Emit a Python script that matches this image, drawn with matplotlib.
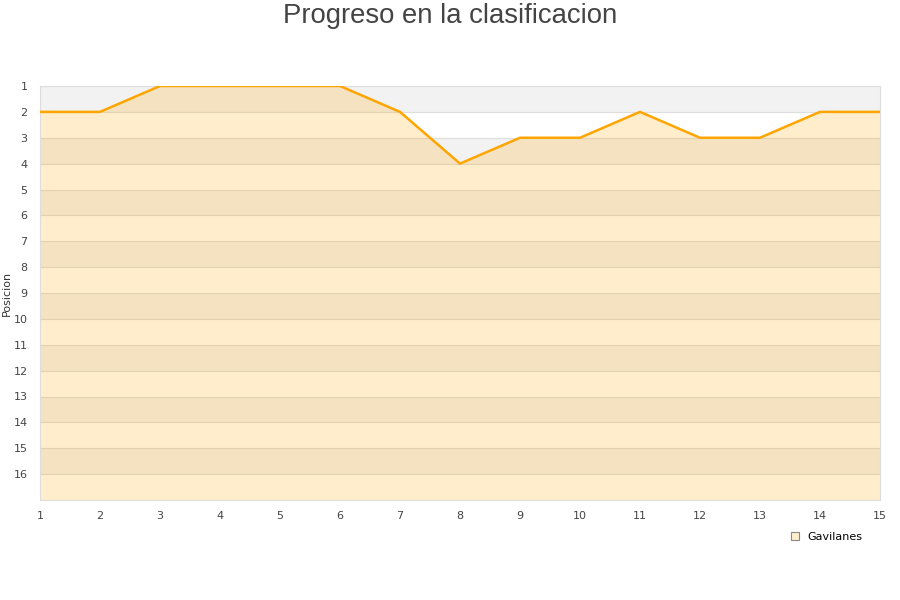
import matplotlib
matplotlib.use("Agg")
import matplotlib.pyplot as plt
from matplotlib.patches import Patch

jornadas = list(range(1, 16))
posiciones = [2, 2, 1, 1, 1, 1, 2, 4, 3, 3, 2, 3, 3, 2, 2]
equipo = "Gavilanes"
y_ticks = list(range(1, 17))

fig = plt.figure(figsize=(9, 6), dpi=100)
ax = fig.add_axes([40/900, 1-500/600, 840/900, 414/600])

n_max = 17
for k in range(1, n_max, 2):
    ax.axhspan(k, k + 1, color="#f2f2f2", zorder=0, lw=0)
for k in range(1, n_max + 1):
    ax.axhline(k, color="#dddddd", lw=0.8, zorder=1)

ax.fill_between(jornadas, posiciones, n_max, color="#FFA500", alpha=0.2, lw=0, zorder=2)
ax.plot(jornadas, posiciones, color="#FFA500", lw=1.8, zorder=3)

ax.set_xlim(1, 15)
ax.set_ylim(n_max, 1)
ax.set_xticks(jornadas)
ax.set_yticks(y_ticks)
ax.tick_params(axis="both", length=0, labelsize=8, labelcolor="#444444")
ax.tick_params(axis="x", pad=8)
ax.tick_params(axis="y", pad=9)
for s in ax.spines.values():
    s.set_color("#dddddd")
    s.set_linewidth(0.8)

ax.set_ylabel("Posicion", fontsize=8, color="#333333", labelpad=4)
ax.yaxis.set_label_coords(-0.034, 0.5)

fig.text(0.5, 1-16/600, "Progreso en la clasificacion", fontsize=19.8, color="#444444",
         family="Liberation Sans", ha="center", va="center")

handle = Patch(facecolor="#ffedcc", edgecolor="#888888", lw=0.8)
fig.legend([handle], [equipo], loc="center", bbox_to_anchor=(827/900, 1-537/600),
           frameon=False, fontsize=8, handlelength=0.7, handleheight=0.7, handletextpad=0.8)

fig.savefig("out.png", dpi=100)
